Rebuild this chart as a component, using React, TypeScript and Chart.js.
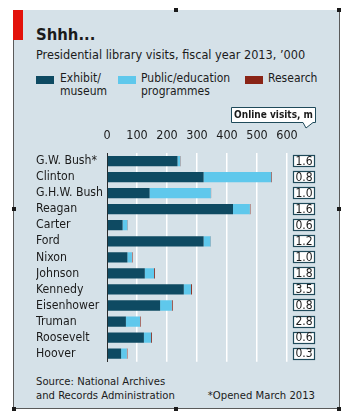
import React, { useEffect, useRef } from "react";
import { Chart, registerables } from "chart.js";
Chart.register(...registerables);

const presidents = ["G.W. Bush*", "Clinton", "G.H.W. Bush", "Reagan", "Carter", "Ford", "Nixon", "Johnson", "Kennedy", "Eisenhower", "Truman", "Roosevelt", "Hoover"];
const exhibitMuseum = [235, 322, 142, 420, 52, 322, 68, 126, 256, 177, 63, 123, 47];
const publicEducation = [9, 225, 204, 56, 16, 23, 15, 31, 24, 39, 47, 24, 19];
const researchVisits = [1, 2, 1, 2, 1, 1, 2, 3, 3, 3, 2, 3, 2];
const onlineVisits = ["1.6", "0.8", "1.0", "1.6", "0.6", "1.2", "1.0", "1.8", "3.5", "0.8", "2.8", "0.6", "0.3"];
const xTickMax = 600;
const xTickStep = 100;

const FONT = '"DejaVu Sans Condensed", "Liberation Sans Narrow", sans-serif';
const TEXT = "#1b1b1b";
const DARK = "#0e4a62";
const LIGHT = "#5fc8ec";
const RED = "#8a2416";
const PANEL = "#d5e1e8";

const onlinePlugin = {
  id: "onlineBoxes",
  afterDatasetsDraw(chart: any) {
    const ctx = chart.ctx;
    const y = chart.scales.y;
    const area = chart.chartArea;
    const bx = area.right + 6;
    const bw = 22;
    const bh = 12;
    ctx.save();
    ctx.font = `12px ${FONT}`;
    ctx.textAlign = "center";
    ctx.textBaseline = "middle";
    onlineVisits.forEach((v, i) => {
      const cy = y.getPixelForValue(i);
      const top = Math.round(cy - bh / 2);
      ctx.fillStyle = "#ffffff";
      ctx.fillRect(bx, top, bw, bh);
      ctx.strokeStyle = "#1f4a5a";
      ctx.lineWidth = 1.2;
      ctx.strokeRect(bx + 0.5, top + 0.5, bw - 1, bh - 1);
      ctx.fillStyle = TEXT;
      ctx.fillText(v, bx + bw / 2, cy + 0.5);
    });
    // callout
    const right = bx + bw + 1;
    const left = right - 85;
    const top = 7;
    const bottom = 22;
    ctx.beginPath();
    ctx.moveTo(left + 0.5, top + 0.5);
    ctx.lineTo(right - 0.5, top + 0.5);
    ctx.lineTo(right - 0.5, bottom + 0.5);
    ctx.lineTo(right - 3, bottom + 0.5);
    ctx.lineTo(right - 10, bottom + 6);
    ctx.lineTo(right - 13, bottom + 0.5);
    ctx.lineTo(left + 0.5, bottom + 0.5);
    ctx.closePath();
    ctx.fillStyle = "#ffffff";
    ctx.fill();
    ctx.strokeStyle = "#1f4a5a";
    ctx.lineWidth = 1;
    ctx.stroke();
    ctx.fillStyle = TEXT;
    ctx.font = `bold 10px ${FONT}`;
    ctx.fillText("Online visits, m", (left + right) / 2, (top + bottom) / 2 + 1);
    ctx.restore();
  },
};

export default function App() {
  const ref = useRef<HTMLCanvasElement>(null);
  useEffect(() => {
    if (!ref.current) return;
    const chart = new Chart(ref.current, {
      type: "bar",
      data: {
        labels: presidents,
        datasets: [
          { label: "Exhibit/museum", data: exhibitMuseum, backgroundColor: DARK },
          { label: "Public/education programmes", data: publicEducation, backgroundColor: LIGHT },
          { label: "Research", data: researchVisits, backgroundColor: RED },
        ],
      },
      options: {
        indexAxis: "y",
        responsive: false,
        animation: false,
        devicePixelRatio: 1,
        layout: { padding: { left: 23, right: 51, top: 0, bottom: 7 } },
        datasets: { bar: { barPercentage: 0.64, categoryPercentage: 1 } },
        plugins: { legend: { display: false }, tooltip: { enabled: false } },
        scales: {
          x: {
            position: "top",
            stacked: true,
            min: 0,
            max: xTickMax,
            ticks: { stepSize: xTickStep, color: TEXT, padding: 10, font: { family: FONT, size: 12.5 } },
            grid: {
              drawTicks: false,
              lineWidth: 1.5,
              color: (c: any) => (c.tick && c.tick.value === 0 ? "rgba(0,0,0,0)" : "#ffffff"),
            },
            border: { display: false },
            afterFit: (s: any) => { s.height = 53; },
          },
          y: {
            stacked: true,
            ticks: { autoSkip: false, crossAlign: "far", color: TEXT, padding: 6, font: { family: FONT, size: 12.2 } },
            grid: { display: false, drawTicks: false },
            border: { display: true, color: "#2a2a2a", width: 1 },
            afterFit: (s: any) => { s.width = 71; },
          },
        },
      },
      plugins: [onlinePlugin],
    });
    return () => chart.destroy();
  }, []);

  const mark = (l: number, t: number) => (
    <div style={{ position: "absolute", left: l - 2, top: t - 2, width: 4, height: 4, background: "#1a1a1a" }} />
  );
  const sw = (c: string) => ({ display: "inline-block", width: 18, height: 8, background: c });

  return (
    <div style={{ position: "absolute", left: 0, top: 0, width: 351, height: 418, background: "#ffffff", fontFamily: FONT, color: TEXT, overflow: "hidden" }}>
      <div style={{ position: "absolute", left: 13, top: 10, width: 325, height: 398, background: PANEL, borderLeft: "1px solid #5a5a5a", borderRight: "1px solid #5a5a5a", borderBottom: "1px solid #5a5a5a" }} />
      <div style={{ position: "absolute", left: 13, top: 10, width: 10, height: 30, background: "#e3120b" }} />
      {mark(176, 10)}{mark(339, 10)}{mark(14, 209)}{mark(339, 209)}{mark(14, 409)}{mark(176, 409)}{mark(339, 409)}
      <div style={{ position: "absolute", left: 36, top: 25, fontSize: 16.5, fontWeight: "bold", lineHeight: "20px" }}>Shhh...</div>
      <div style={{ position: "absolute", left: 36, top: 47, fontSize: 12.6, lineHeight: "16px", whiteSpace: "nowrap" }}>Presidential library visits, fiscal year 2013, ’000</div>
      <div style={{ position: "absolute", left: 36, top: 76, ...sw(DARK) }} />
      <div style={{ position: "absolute", left: 60, top: 72, fontSize: 12, lineHeight: "13px" }}>Exhibit/<br />museum</div>
      <div style={{ position: "absolute", left: 118, top: 76, ...sw(LIGHT) }} />
      <div style={{ position: "absolute", left: 141, top: 72, fontSize: 12, lineHeight: "13px", whiteSpace: "nowrap" }}>Public/education<br />programmes</div>
      <div style={{ position: "absolute", left: 245, top: 76, ...sw(RED) }} />
      <div style={{ position: "absolute", left: 268, top: 72, fontSize: 12, lineHeight: "13px" }}>Research</div>
      <canvas ref={ref} width={325} height={275} style={{ position: "absolute", left: 13, top: 100, width: 325, height: 275 }} />
      <div style={{ position: "absolute", left: 36, top: 375, fontSize: 11.2, lineHeight: "14px", whiteSpace: "nowrap" }}>Source: National Archives<br />and Records Administration</div>
      <div style={{ position: "absolute", right: 36, top: 389, fontSize: 11.2, lineHeight: "14px", whiteSpace: "nowrap" }}>*Opened March 2013</div>
    </div>
  );
}
